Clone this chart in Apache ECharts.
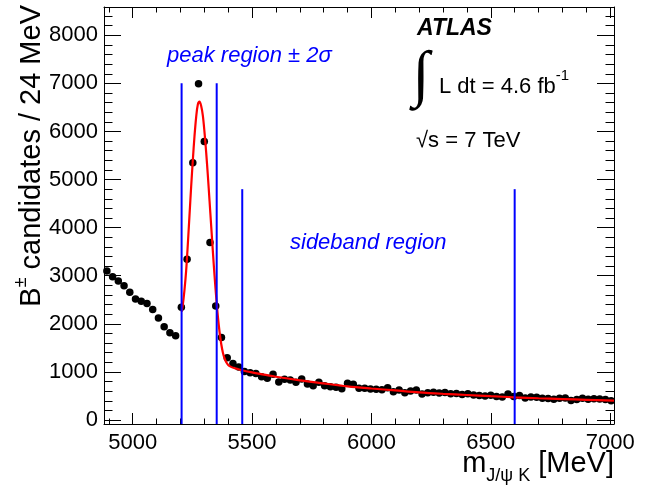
<!DOCTYPE html>
<html>
<head>
<meta charset="utf-8">
<script src="https://cdn.jsdelivr.net/npm/echarts@6/dist/echarts.min.js"></script>
<style>
html,body{margin:0;padding:0;background:#fff;}
#chart{width:646px;height:492px;}
</style>
</head>
<body>
<div id="chart"></div>
<script>
// ---- data ----
const binStart = 4880;     // MeV, lower edge of first bin
const binWidth = 24;       // MeV
const counts = [
  3100, 2980, 2890, 2790, 2655, 2515, 2467, 2425, 2300, 2120,
  1940, 1815, 1753, 2343, 3345, 5350, 6990, 5790, 3690, 2370,
  1715, 1295, 1175, 1100, 1010, 985, 965, 900, 866, 950,
  790, 846, 832, 783, 852, 748, 713, 783, 713, 692,
  680, 650, 763, 742, 659, 659, 645, 638, 630, 671,
  588, 624, 568, 603, 624, 540, 568, 575, 560, 570,
  545, 550, 530, 545, 520, 510, 500, 515, 490, 480,
  540, 490, 510, 460, 480, 475, 455, 445, 430, 450,
  460, 405, 425, 450, 430, 440, 435, 425, 400
];
const fitMass = [5205, 5210, 5217, 5224, 5231, 5238, 5245, 5252, 5259, 5266,
  5273, 5280, 5287, 5294, 5301, 5308, 5315, 5322, 5329, 5336,
  5343, 5350, 5357, 5364, 5371, 5378, 5385, 5392, 5400, 5410,
  5425, 5450, 5500, 5550, 5600, 5700, 5800, 5900, 6000, 6100,
  6200, 6300, 6400, 6500, 6600, 6700, 6800, 6900, 7016];
const fitValue = [2250, 2390, 2700, 3100, 3650, 4250, 4850, 5400, 5900, 6300,
  6560, 6620, 6530, 6330, 5980, 5560, 5080, 4560, 4030, 3500,
  3000, 2550, 2150, 1830, 1580, 1400, 1280, 1200, 1145, 1110,
  1080, 1045, 990, 945, 900, 825, 760, 700, 655, 615,
  575, 545, 520, 495, 472, 452, 435, 420, 405];
const regionEdges = [5205, 5352, 5459, 6600];
const regionTops  = [7000, 7000, 4800, 4800];

const xMin = 4880, xMax = 7016;
const yMin = -83, yMax = 8588;
const xMajorTicks = [5000, 5500, 6000, 6500, 7000];
const xMinorTicks = [4900, 5100, 5200, 5300, 5400, 5600, 5700, 5800, 5900,
  6100, 6200, 6300, 6400, 6600, 6700, 6800, 6900];
const yMajorTicks = [0, 1000, 2000, 3000, 4000, 5000, 6000, 7000, 8000];
const yMinorTicks = [200, 400, 600, 800, 1200, 1400, 1600, 1800, 2200, 2400, 2600, 2800,
  3200, 3400, 3600, 3800, 4200, 4400, 4600, 4800, 5200, 5400, 5600, 5800,
  6200, 6400, 6600, 6800, 7200, 7400, 7600, 7800, 8200, 8400];

// ---- build ----
const FONT = '"Liberation Sans", Arial, Helvetica, sans-serif';
const scatterData = counts.map((v, i) => [binStart + binWidth * (i + 0.5), v]);
const fitData = fitMass.map((m, i) => [m, fitValue[i]]);
const plain = v => String(Math.round(v));

function xAx(pos, ticks, len, showLine, labels) {
  return {
    type: 'value', min: xMin, max: xMax, position: pos,
    axisLine: { show: showLine, onZero: false, lineStyle: { color: '#000', width: 1 } },
    axisTick: { show: true, inside: true, length: len, customValues: ticks, lineStyle: { color: '#000', width: 1 } },
    axisLabel: labels ? { show: true, customValues: ticks, formatter: plain, fontSize: 22, color: '#000', fontFamily: FONT, margin: 8 } : { show: false },
    splitLine: { show: false }
  };
}
function yAx(pos, ticks, len, showLine, labels) {
  return {
    type: 'value', min: yMin, max: yMax, position: pos,
    axisLine: { show: showLine, onZero: false, lineStyle: { color: '#000', width: 1 } },
    axisTick: { show: true, inside: true, length: len, customValues: ticks, lineStyle: { color: '#000', width: 1 } },
    axisLabel: labels ? { show: true, customValues: ticks, formatter: plain, fontSize: 22, color: '#000', fontFamily: FONT, margin: 6 } : { show: false },
    splitLine: { show: false }
  };
}

const series = [
  {
    type: 'scatter', xAxisIndex: 0, yAxisIndex: 0, data: scatterData,
    symbol: 'circle', symbolSize: 7.5, itemStyle: { color: '#000', opacity: 1 }, z: 3, silent: true
  },
  {
    type: 'line', xAxisIndex: 0, yAxisIndex: 0, data: fitData, smooth: 0.35,
    symbol: 'none', lineStyle: { color: '#ff0000', width: 2.2 }, z: 4, silent: true
  }
];
regionEdges.forEach((x, i) => {
  series.push({
    type: 'line', xAxisIndex: 0, yAxisIndex: 0, data: [[x, yMin], [x, regionTops[i]]],
    symbol: 'none', lineStyle: { color: '#0000ff', width: 2 }, z: 5, silent: true
  });
});

const option = {
  animation: false,
  backgroundColor: '#fff',
  grid: { left: 104, right: 32, top: 7, bottom: 68 },
  xAxis: [
    xAx('bottom', xMajorTicks, 11, true, true),
    xAx('bottom', xMinorTicks, 5.5, false, false),
    xAx('top', xMajorTicks, 11, true, false),
    xAx('top', xMinorTicks, 5.5, false, false)
  ],
  yAxis: [
    yAx('left', yMajorTicks, 17, true, true),
    yAx('left', yMinorTicks, 8.5, false, false),
    yAx('right', yMajorTicks, 17, true, false),
    yAx('right', yMinorTicks, 8.5, false, false)
  ],
  series: series,
  graphic: [
    { type: 'text', x: 29, y: 5, rotation: Math.PI / 2, z: 10,
      style: { text: '{n|B}{s|±}{n| candidates / 24 MeV}', align: 'right', verticalAlign: 'middle',
        rich: {
          n: { fontSize: 29, fontFamily: FONT, color: '#000', lineHeight: 34, verticalAlign: 'bottom' },
          s: { fontSize: 18, fontFamily: FONT, color: '#000', lineHeight: 34, verticalAlign: 'top' }
        } } },
    { type: 'text', x: 614, y: 467, z: 10,
      style: { text: '{n|m}{s|J/ψ K}{n| [MeV]}', align: 'right', verticalAlign: 'middle',
        rich: {
          n: { fontSize: 29, fontFamily: FONT, color: '#000', lineHeight: 36, verticalAlign: 'top' },
          s: { fontSize: 18, fontFamily: FONT, color: '#000', lineHeight: 36, verticalAlign: 'bottom' }
        } } },
    { type: 'text', x: 417, y: 28.5, z: 10,
      style: { text: 'ATLAS', font: 'italic bold 23px ' + FONT, fill: '#000', align: 'left', verticalAlign: 'middle' } },
    { type: 'text', x: 421, y: 78, z: 10,
      style: { text: '∫', font: 'italic 62px "Liberation Serif", serif', fill: '#000', align: 'center', verticalAlign: 'middle' } },
    { type: 'text', x: 439, y: 83, z: 10,
      style: { text: '{n|L dt = 4.6 fb}{s|-1}', align: 'left', verticalAlign: 'middle',
        rich: {
          n: { fontSize: 22, fontFamily: FONT, color: '#000', lineHeight: 30, verticalAlign: 'bottom' },
          s: { fontSize: 15, fontFamily: FONT, color: '#000', lineHeight: 30, verticalAlign: 'top' }
        } } },
    { type: 'text', x: 416, y: 141, z: 10,
      style: { text: '√s = 7 TeV', font: '22px ' + FONT, fill: '#000', align: 'left', verticalAlign: 'middle' } },
    { type: 'text', x: 167, y: 56, z: 10,
      style: { text: 'peak region ± 2σ', font: 'italic 22px ' + FONT, fill: '#0000ff', align: 'left', verticalAlign: 'middle' } },
    { type: 'text', x: 290, y: 243, z: 10,
      style: { text: 'sideband region', font: 'italic 22px ' + FONT, fill: '#0000ff', align: 'left', verticalAlign: 'middle' } }
  ]
};

const chart = echarts.init(document.getElementById('chart'), null, { renderer: 'canvas' });
chart.setOption(option);
</script>
</body>
</html>
